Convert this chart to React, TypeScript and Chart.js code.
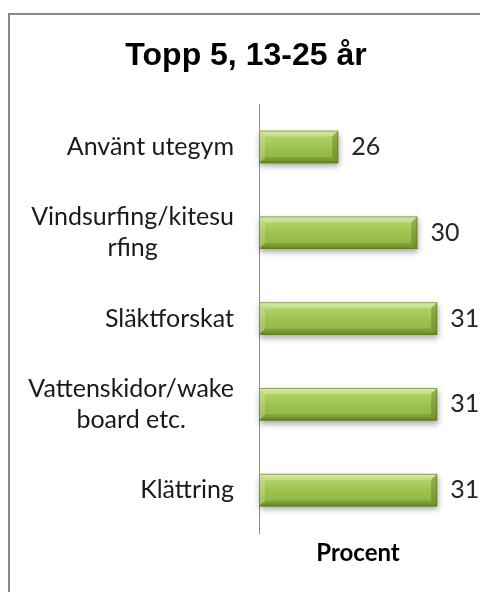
import React, { useEffect, useRef } from "react";
import { Chart, registerables } from "chart.js";

Chart.register(...registerables);

const titleText = "Topp 5, 13-25 år";
const categories: string[][] = [
  ["Använt utegym"],
  ["Vindsurfing/kitesu", "rfing"],
  ["Släktforskat"],
  ["Vattenskidor/wake", "board etc."],
  ["Klättring"],
];
const values: number[] = [26, 30, 31, 31, 31];
const axisTitle = "Procent";
const xMin = 22;
const xMax = 32;

const LABEL_FONT = "25px Lato";
const VALUE_FONT = "25px Lato";

const decorPlugin = {
  id: "decor",
  beforeDraw(chart: any) {
    const ctx = chart.ctx;
    ctx.save();
    ctx.fillStyle = "#ffffff";
    ctx.fillRect(0, 0, chart.width, chart.height);
    ctx.strokeStyle = "#878787";
    ctx.lineWidth = 2;
    ctx.strokeRect(9, 14, 700, 800);
    ctx.fillStyle = "#000000";
    ctx.font = "bold 32px 'Liberation Sans'";
    ctx.textAlign = "center";
    ctx.textBaseline = "middle";
    ctx.fillText(titleText, 246, 56);
    ctx.restore();
  },
  afterDraw(chart: any) {
    const ctx = chart.ctx;
    const yScale = chart.scales.y;
    ctx.save();
    ctx.font = LABEL_FONT;
    ctx.fillStyle = "#1a1a1a";
    ctx.textAlign = "center";
    ctx.textBaseline = "middle";
    const rightX = 234;
    const lh = 31;
    categories.forEach((lines, i) => {
      const cy = yScale.getPixelForTick(i);
      const maxW = Math.max(...lines.map((l) => ctx.measureText(l).width));
      const cx = rightX - maxW / 2;
      const startY = cy - ((lines.length - 1) * lh) / 2;
      lines.forEach((l, j) => ctx.fillText(l, cx, startY + j * lh));
    });
    ctx.restore();
  },
  afterDatasetsDraw(chart: any) {
    const ctx = chart.ctx;
    const meta = chart.getDatasetMeta(0);
    ctx.save();
    meta.data.forEach((bar: any, i: number) => {
      const L = Math.min(bar.base, bar.x);
      const R = Math.max(bar.base, bar.x);
      const T = bar.y - bar.height / 2;
      const B = bar.y + bar.height / 2;
      const b = 6;
      ctx.save();
      ctx.shadowColor = "rgba(0,0,0,0.35)";
      ctx.shadowBlur = 6;
      ctx.shadowOffsetX = 1;
      ctx.shadowOffsetY = 3;
      const g = ctx.createLinearGradient(0, T, 0, B);
      g.addColorStop(0, "#cfe68a");
      g.addColorStop(0.12, "#b5d46a");
      g.addColorStop(0.5, "#9ec44f");
      g.addColorStop(0.88, "#8fb545");
      g.addColorStop(1, "#6f8f2e");
      ctx.fillStyle = g;
      ctx.fillRect(L, T, R - L, B - T);
      ctx.restore();
      const poly = (pts: number[][], color: string) => {
        ctx.beginPath();
        ctx.moveTo(pts[0][0], pts[0][1]);
        for (let k = 1; k < pts.length; k++) ctx.lineTo(pts[k][0], pts[k][1]);
        ctx.closePath();
        ctx.fillStyle = color;
        ctx.fill();
      };
      poly([[L, T], [R, T], [R - b, T + b], [L + b, T + b]], "rgba(255,255,255,0.28)");
      poly([[L, B], [R, B], [R - b, B - b], [L + b, B - b]], "rgba(40,60,0,0.18)");
      poly([[L, T], [L + b, T + b], [L + b, B - b], [L, B]], "rgba(255,255,255,0.18)");
      poly([[R, T], [R - b, T + b], [R - b, B - b], [R, B]], "rgba(40,60,0,0.25)");
      ctx.strokeStyle = "rgba(90,120,30,0.6)";
      ctx.lineWidth = 1;
      ctx.strokeRect(L + 0.5, T + 0.5, R - L - 1, B - T - 1);
      ctx.font = VALUE_FONT;
      ctx.fillStyle = "#262626";
      ctx.textAlign = "left";
      ctx.textBaseline = "middle";
      ctx.fillText(String(values[i]), R + 13, bar.y);
    });
    ctx.restore();
  },
};

export default function App() {
  const ref = useRef<HTMLCanvasElement>(null);
  useEffect(() => {
    if (!ref.current) return;
    const chart = new Chart(ref.current, {
      type: "bar",
      data: {
        labels: categories.map((c) => c.join(" ")),
        datasets: [
          {
            data: values,
            base: xMin,
            backgroundColor: "rgba(0,0,0,0)",
            borderWidth: 0,
            barPercentage: 0.76,
            categoryPercentage: 0.5,
          },
        ],
      },
      options: {
        indexAxis: "y",
        responsive: false,
        animation: false,
        layout: { padding: { left: 251, right: 23, top: 104, bottom: 23 } },
        plugins: {
          legend: { display: false },
          title: { display: false },
          tooltip: { enabled: false },
        },
        scales: {
          x: {
            min: xMin,
            max: xMax,
            ticks: { display: false, padding: 0 },
            grid: { display: false },
            border: { display: false },
            title: {
              display: true,
              text: axisTitle,
              color: "#000000",
              font: { family: "Lato", size: 24, weight: "bold", lineHeight: 1 },
              padding: { top: 0, bottom: 4 },
            },
          },
          y: {
            ticks: { display: false },
            grid: { display: false },
            border: { display: true, color: "#8c8c8c", width: 1 },
          },
        },
      },
      plugins: [decorPlugin],
    });
    return () => chart.destroy();
  }, []);
  return (
    <div style={{ position: "fixed", left: 0, top: 0, width: 480, height: 592, overflow: "hidden" }}>
      <canvas ref={ref} width={480} height={592} style={{ display: "block", width: 480, height: 592 }} />
    </div>
  );
}
